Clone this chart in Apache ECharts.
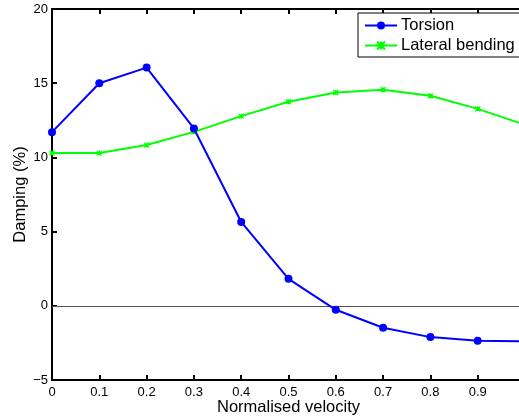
<!DOCTYPE html>
<html>
<head>
<meta charset="utf-8">
<script src="https://cdn.jsdelivr.net/npm/echarts@6/dist/echarts.min.js"></script>
<style>
html,body{margin:0;padding:0;background:#fff;overflow:hidden;}
#chart{width:519px;height:419px;}
</style>
</head>
<body>
<div id="chart"></div>
<script>
var velocity = [0, 0.1, 0.2, 0.3, 0.4, 0.5, 0.6, 0.7, 0.8, 0.9, 1.0];
var torsion = [11.7, 15.0, 16.05, 11.95, 5.65, 1.82, -0.27, -1.48, -2.11, -2.36, -2.4];
var lateralBending = [10.29, 10.29, 10.83, 11.72, 12.78, 13.75, 14.37, 14.56, 14.15, 13.27, 12.2];
var seriesNames = ['Torsion', 'Lateral bending'];
var xTicks = { min: 0, max: 1, interval: 0.1 };
var yTicks = { min: -5, max: 20, interval: 5 };

function pairs(xs, ys) { return xs.map(function (x, i) { return [x, ys[i]]; }); }

var font = '"Liberation Sans", Arial, Helvetica, sans-serif';
var chart = echarts.init(document.getElementById('chart'), null, { renderer: 'canvas' });

var axisCommon = {
  axisLine: { show: true, onZero: false, lineStyle: { color: '#000', width: 2 } },
  axisTick: { show: true, inside: true, length: 5, lineStyle: { color: '#000', width: 2 } },
  splitLine: { show: false },
  axisLabel: { color: '#000', fontFamily: font, fontSize: 13 }
};

chart.setOption({
  animation: false,
  backgroundColor: '#fff',
  grid: { left: 52, top: 9, right: -6, bottom: 39, show: false, containLabel: false, outerBoundsMode: 'none' },
  legend: {
    orient: 'vertical',
    left: 358,
    top: 13,
    padding: [4, 10, 3, 6],
    itemGap: 3,
    itemWidth: 32,
    itemHeight: 10,
    borderColor: '#000',
    borderWidth: 1,
    borderRadius: 0,
    backgroundColor: '#fff',
    textStyle: { color: '#000', fontFamily: font, fontSize: 16.5, lineHeight: 17, padding: [0, 0, 0, -1] },
    data: seriesNames
  },
  xAxis: [
    Object.assign({}, axisCommon, {
      type: 'value', position: 'bottom',
      min: xTicks.min, max: xTicks.max, interval: xTicks.interval,
      name: 'Normalised velocity', nameLocation: 'middle', nameGap: 19, nameMoveOverlap: false,
      nameTextStyle: { color: '#000', fontFamily: font, fontSize: 16.5 },
      axisLabel: { color: '#000', fontFamily: font, fontSize: 13, margin: 6 }
    }),
    Object.assign({}, axisCommon, {
      type: 'value', position: 'top',
      min: xTicks.min, max: xTicks.max, interval: xTicks.interval,
      axisLabel: { show: false }
    })
  ],
  yAxis: [
    Object.assign({}, axisCommon, {
      type: 'value', position: 'left',
      min: yTicks.min, max: yTicks.max, interval: yTicks.interval,
      name: 'Damping (%)', nameLocation: 'middle', nameGap: 23, nameMoveOverlap: false,
      nameTextStyle: { color: '#000', fontFamily: font, fontSize: 16.5 },
      axisLabel: {
        color: '#000', fontFamily: font, fontSize: 13, margin: 4,
        formatter: function (v) { return String(v).replace('-', '\u2212'); }
      }
    }),
    Object.assign({}, axisCommon, {
      type: 'value', position: 'right',
      min: yTicks.min, max: yTicks.max, interval: yTicks.interval,
      axisLabel: { show: false }
    })
  ],
  series: [
    {
      name: seriesNames[0],
      type: 'line',
      data: pairs(velocity, torsion),
      symbol: 'circle',
      symbolSize: 8,
      showAllSymbol: true,
      lineStyle: { color: '#0000ff', width: 2 },
      itemStyle: { color: '#0000ff' },
      z: 3,
      markLine: {
        silent: true,
        symbol: ['none', 'none'],
        label: { show: false },
        lineStyle: { color: '#555', width: 1, type: 'solid' },
        data: [{ yAxis: 0 }],
        z: 1
      }
    },
    {
      name: seriesNames[1],
      type: 'line',
      data: pairs(velocity, lateralBending),
      symbol: 'path://M0,0L10,10M10,0L0,10M5,0L5,10M0,5L10,5',
      symbolSize: 5,
      showAllSymbol: true,
      lineStyle: { color: '#00ff00', width: 2 },
      itemStyle: { color: '#00ff00', borderColor: '#00ff00', borderWidth: 1.2 },
      z: 2
    }
  ]
});
</script>
</body>
</html>
